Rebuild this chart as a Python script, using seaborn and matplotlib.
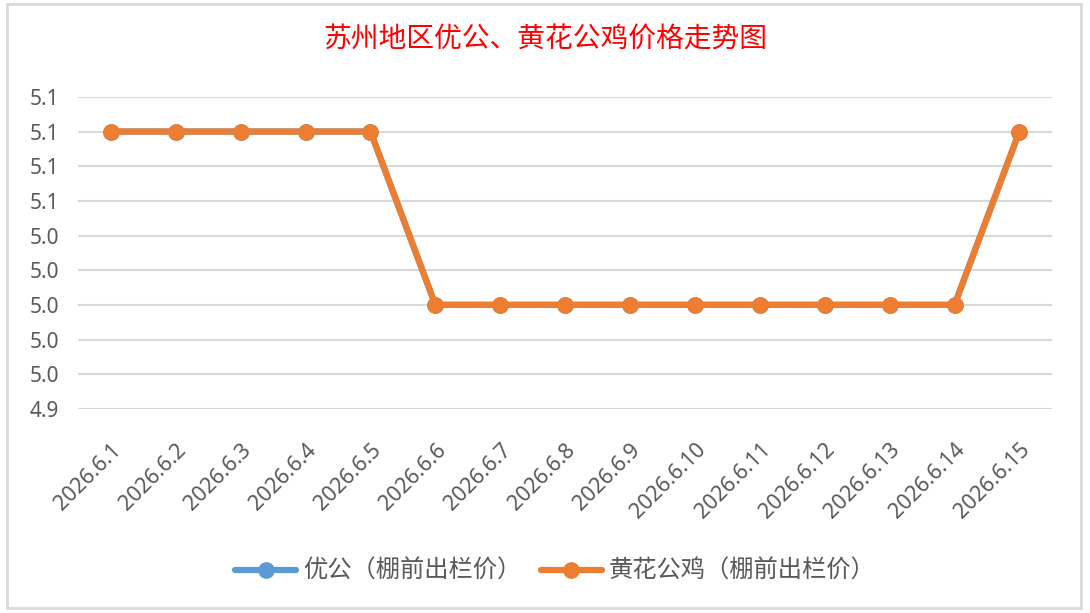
import pandas as pd
import matplotlib
matplotlib.use('Agg')
import matplotlib.pyplot as plt
import seaborn as sns

dates = ['2026.6.1', '2026.6.2', '2026.6.3', '2026.6.4', '2026.6.5', '2026.6.6', '2026.6.7',
         '2026.6.8', '2026.6.9', '2026.6.10', '2026.6.11', '2026.6.12', '2026.6.13',
         '2026.6.14', '2026.6.15']
youg = [5.1, 5.1, 5.1, 5.1, 5.1, 5.0, 5.0, 5.0, 5.0, 5.0, 5.0, 5.0, 5.0, 5.0, 5.1]
huanghua = [5.1, 5.1, 5.1, 5.1, 5.1, 5.0, 5.0, 5.0, 5.0, 5.0, 5.0, 5.0, 5.0, 5.0, 5.1]
yticks = [4.94, 4.96, 4.98, 5.00, 5.02, 5.04, 5.06, 5.08, 5.10, 5.12]
names = ['优公（棚前出栏价）', '黄花公鸡（棚前出栏价）']

sns.set_theme(style="white")
plt.rcParams['font.family'] = ['Noto Sans CJK SC', 'DejaVu Sans']

d = pd.DataFrame({'日期': dates * 2,
                  '价格': youg + huanghua,
                  '品种': [names[0]] * len(dates) + [names[1]] * len(dates)})
d['x'] = list(range(len(dates))) * 2

fig = plt.figure(figsize=(10.9, 6.13), dpi=100)
ax = fig.add_axes([0.072, 0.333, 0.893, 0.509])
sns.lineplot(data=d, x='x', y='价格', hue='品种', palette=['#5B9BD5', '#ED7D31'],
             marker='o', markersize=12, linewidth=4.5, markeredgewidth=0, ax=ax)

ax.set_xlim(-0.5, len(dates) - 0.5)
ax.set_ylim(4.94, 5.12)
ax.set_yticks(yticks)
ax.set_yticklabels([f'{v:.1f}' for v in yticks], color='#595959', fontsize=15, family='Noto Sans')
ax.set_xticks(range(len(dates)))
ax.set_xticklabels(dates, rotation=45, ha='right', rotation_mode='anchor',
                   color='#595959', fontsize=15.5, family='Noto Sans')
ax.tick_params(axis='y', length=0, pad=14)
ax.tick_params(axis='x', length=0, pad=22)
ax.yaxis.grid(True, color='#D9D9D9', linewidth=1.5)
for s in ax.spines.values():
    s.set_visible(False)
ax.set_xlabel('')
ax.set_ylabel('')

fig.text(0.5, 0.935, '苏州地区优公、黄花公鸡价格走势图', ha='center', va='center',
         color='#FF0000', fontsize=20)

ax.legend(loc='center', bbox_to_anchor=(0.49, -0.52), ncol=2, frameon=False,
          fontsize=17.5, handlelength=2.5, columnspacing=0.8, handletextpad=0.3,
          markerscale=1.0, labelcolor='#595959', title=None)

fig.patches.append(plt.Rectangle((0.006, 0.008), 0.986, 0.985, transform=fig.transFigure,
                                 fill=False, edgecolor='#D9D9D9', linewidth=2))

fig.savefig('out.png', dpi=100)
